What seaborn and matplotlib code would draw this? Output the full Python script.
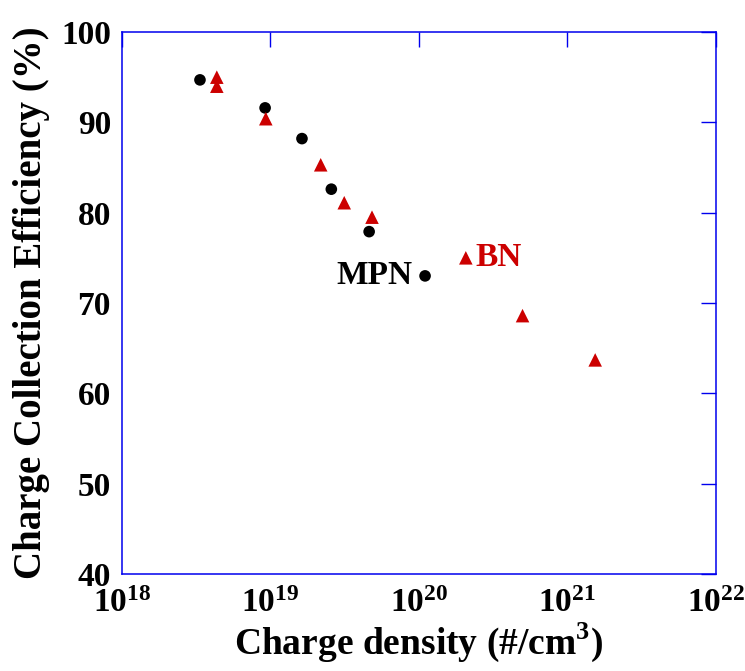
import numpy as np
import pandas as pd
import matplotlib
matplotlib.use("Agg")
import matplotlib.pyplot as plt
import matplotlib.ticker as mticker
import seaborn as sns

# data
mpn_density = [3.35e18, 9.2e18, 1.63e19, 2.57e19, 4.62e19, 1.10e20]
mpn_eff = [94.7, 91.6, 88.2, 82.6, 77.9, 73.0]
bn_density = [4.35e18, 4.35e18, 9.3e18, 2.18e19, 3.14e19, 4.83e19, 2.07e20, 4.99e20, 1.54e21]
bn_eff = [95.0, 94.0, 90.4, 85.3, 81.1, 79.5, 75.0, 68.6, 63.7]
xtick_vals = [1e18, 1e19, 1e20, 1e21, 1e22]
xtick_labels = [r'$\mathbf{10^{18}}$', r'$\mathbf{10^{19}}$', r'$\mathbf{10^{20}}$',
                r'$\mathbf{10^{21}}$', r'$\mathbf{10^{22}}$']
ytick_vals = [40, 50, 60, 70, 80, 90, 100]

mpn = pd.DataFrame({'density': mpn_density, 'eff': mpn_eff})
bn = pd.DataFrame({'density': bn_density, 'eff': bn_eff})

sns.set_style("white")
plt.rcParams['font.family'] = ['Liberation Serif', 'DejaVu Serif']
plt.rcParams['font.weight'] = 'bold'
plt.rcParams['text.color'] = 'black'
plt.rcParams['axes.labelcolor'] = 'black'
plt.rcParams['xtick.color'] = 'black'
plt.rcParams['ytick.color'] = 'black'
plt.rcParams['mathtext.fontset'] = 'custom'
plt.rcParams['mathtext.rm'] = 'Liberation Serif:bold'
plt.rcParams['mathtext.bf'] = 'Liberation Serif:bold'

fig = plt.figure(figsize=(7.45, 6.71), dpi=100)
ax = fig.add_axes([0.1638, 0.1446, 0.797, 0.8077])

red = '#CC0000'
sns.scatterplot(data=mpn, x='density', y='eff', ax=ax, color='black', marker='o',
                s=70, edgecolor='none', legend=False)
sns.scatterplot(data=bn, x='density', y='eff', ax=ax, color=red, marker='^',
                s=95, edgecolor='none', legend=False)

ax.set_xscale('log')
ax.set_xlim(1e18, 1e22)
ax.set_ylim(40, 100)
ax.xaxis.set_major_locator(mticker.FixedLocator(xtick_vals))
ax.xaxis.set_major_formatter(mticker.FixedFormatter(xtick_labels))
ax.xaxis.set_minor_locator(mticker.NullLocator())
ax.set_yticks(ytick_vals)

for sp in ax.spines.values():
    sp.set_color('#0000EE')
    sp.set_linewidth(1.1)
ax.tick_params(which='major', direction='in', length=11, width=1, color='#0000EE',
               labelcolor='black', top=True, right=True, labelsize=24)
ax.tick_params(axis='x', pad=10)
ax.tick_params(axis='y', pad=8)
for lab in ax.get_yticklabels():
    lab.set_fontweight('bold')

ax.set_xlabel(r'Charge density (#/cm$^{\mathbf{3}}$)', fontsize=27, fontweight='bold', labelpad=1)
ax.set_ylabel('Charge Collection Efficiency (%)', fontsize=28, fontweight='bold', labelpad=8)

ax.text(9.0e19, 73.0, 'MPN', ha='right', va='center', fontsize=24, fontweight='bold', color='black')
ax.text(2.4e20, 75.0, 'BN', ha='left', va='center', fontsize=24, fontweight='bold', color=red)

fig.savefig('out.png', dpi=100)
